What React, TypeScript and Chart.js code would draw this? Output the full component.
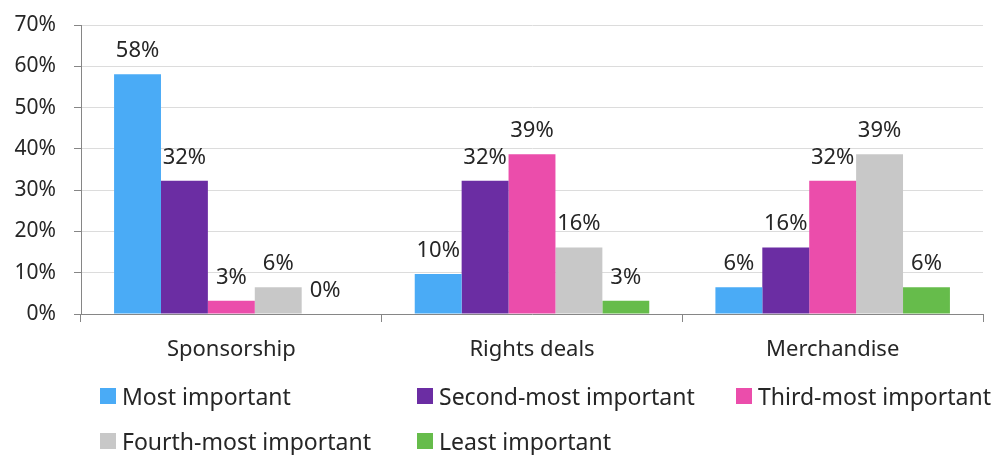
import React, { useEffect, useRef } from "react";
import { Chart, registerables } from "chart.js";

Chart.register(...registerables);

const categories = ["Sponsorship", "Rights deals", "Merchandise"];
const seriesNames = [
  "Most important",
  "Second-most important",
  "Third-most important",
  "Fourth-most important",
  "Least important",
];
const seriesColors = ["#4AABF6", "#6B2DA3", "#EB4DAB", "#C8C8C8", "#66BC4B"];
const mostImportant = [58.06, 9.68, 6.45];
const secondMost = [32.26, 32.26, 16.13];
const thirdMost = [3.23, 38.71, 32.26];
const fourthMost = [6.45, 16.13, 38.71];
const leastImportant = [0, 3.23, 6.45];
const yTicks = [0, 10, 20, 30, 40, 50, 60, 70];

const FONT = "'Noto Sans', 'Open Sans', sans-serif";
const TEXT = "#262626";

const legendPos = [
  { left: 100, top: 388 },
  { left: 417, top: 388 },
  { left: 736, top: 388 },
  { left: 100, top: 433 },
  { left: 417, top: 433 },
];

const dataLabels = {
  id: "dataLabels",
  afterDatasetsDraw(chart: any) {
    const ctx = chart.ctx;
    ctx.save();
    ctx.font = `22px ${FONT}`;
    ctx.fillStyle = TEXT;
    ctx.textAlign = "center";
    ctx.textBaseline = "alphabetic";
    chart.data.datasets.forEach((ds: any, i: number) => {
      const meta = chart.getDatasetMeta(i);
      meta.data.forEach((el: any, j: number) => {
        const v = ds.data[j];
        ctx.fillText(Math.round(v) + "%", el.x, el.y - 17);
      });
    });
    ctx.restore();
  },
};

export default function App() {
  const ref = useRef<HTMLCanvasElement>(null);
  useEffect(() => {
    const seriesData = [mostImportant, secondMost, thirdMost, fourthMost, leastImportant];
    const chart = new Chart(ref.current!, {
      type: "bar",
      data: {
        labels: categories,
        datasets: seriesNames.map((name, i) => ({
          label: name,
          data: seriesData[i],
          backgroundColor: seriesColors[i],
          borderWidth: 0,
          barPercentage: 1,
          categoryPercentage: 0.78,
        })),
      },
      options: {
        responsive: false,
        animation: false,
        layout: { padding: { left: 0, right: 10, top: 25, bottom: 0 } },
        plugins: { legend: { display: false }, tooltip: { enabled: false } },
        scales: {
          x: {
            grid: { offset: true, drawOnChartArea: false, tickLength: 8, color: "#868686" },
            border: { color: "#868686" },
            ticks: { font: { family: FONT, size: 22 }, color: TEXT, padding: 15 },
            afterFit: (s: any) => {
              s.height = 141;
            },
          },
          y: {
            min: 0,
            max: 70,
            afterBuildTicks: (s: any) => {
              s.ticks = yTicks.map((v) => ({ value: v }));
            },
            ticks: {
              font: { family: FONT, size: 21 },
              color: TEXT,
              padding: 18,
              callback: (v: any) => v + "%",
            },
            grid: { color: "#DCDCDC", tickColor: "#868686", tickLength: 7 },
            border: { color: "#868686" },
            afterFit: (s: any) => {
              s.width = 81;
              s.paddingTop = 0;
              s.paddingBottom = 0;
            },
          },
        },
      },
      plugins: [dataLabels],
    });
    return () => chart.destroy();
  }, []);
  return (
    <div style={{ position: "fixed", left: 0, top: 0, width: 993, height: 455, background: "#fff" }}>
      <canvas ref={ref} width={993} height={455} style={{ position: "absolute", left: 0, top: 0 }} />
      {seriesNames.map((name, i) => (
        <div
          key={name}
          style={{
            position: "absolute",
            left: legendPos[i].left,
            top: legendPos[i].top - 6,
            height: 28,
            display: "flex",
            alignItems: "center",
            fontFamily: FONT,
            fontSize: 23,
            color: TEXT,
            whiteSpace: "nowrap",
          }}
        >
          <span style={{ display: "inline-block", width: 16, height: 16, background: seriesColors[i], marginRight: 6 }} />
          <span>{name}</span>
        </div>
      ))}
    </div>
  );
}
